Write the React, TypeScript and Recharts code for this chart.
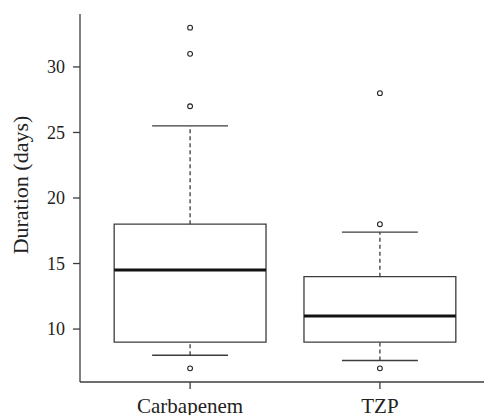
import { ComposedChart, ReferenceArea, ReferenceLine, Scatter, XAxis, YAxis } from "recharts";

const groups = ["Carbapenem", "TZP"];
const lowerWhisker = [8, 7.6];
const lowerQuartile = [9, 9];
const medians = [14.5, 11];
const upperQuartile = [18, 14];
const upperWhisker = [25.5, 17.4];
const outliers = [
  [33, 31, 27, 7],
  [28, 18, 7],
];
const yTicks = [10, 15, 20, 25, 30];

const boxHalf = 0.4;
const capHalf = 0.2;
const xDomain = [0.42, 2.58];
const yDomain = [5.96, 34.04];

const font = "Liberation Serif";
const lineColor = "#3c3c3c";

const outlierPoints = outliers.flatMap((vals, i) => vals.map((v) => ({ x: i + 1, y: v })));

function OutlierDot(props: any) {
  return <circle cx={props.cx} cy={props.cy} r={2.4} fill="#fff" stroke="#222" strokeWidth={1.1} />;
}

function YTitle(props: any) {
  const vb = props.viewBox;
  const cy = vb.y + vb.height / 2 - 13;
  return (
    <text
      x={28}
      y={cy}
      transform={`rotate(-90, 28, ${cy})`}
      textAnchor="middle"
      style={{ fontFamily: font, fontSize: 22, fill: "#222" }}
    >
      Duration (days)
    </text>
  );
}

export default function App() {
  return (
    <div
      style={{
        position: "absolute",
        left: 0,
        top: 0,
        width: 484,
        height: 415,
        overflow: "hidden",
        background: "#fff",
        fontFamily: font,
      }}
    >
      <ComposedChart width={500} height={415} margin={{ top: 14, right: 10, bottom: 0, left: 0 }} style={{ fontFamily: font }}>
        <XAxis
          xAxisId="top"
          orientation="top"
          type="number"
          domain={xDomain}
          allowDataOverflow
          height={0}
          tick={false}
          tickLine={false}
          axisLine={{ stroke: lineColor, strokeWidth: 1.3 }}
        />
        <XAxis
          dataKey="x"
          type="number"
          domain={xDomain}
          allowDataOverflow
          ticks={[1, 2]}
          tickFormatter={(v: number) => groups[v - 1]}
          height={33}
          tickSize={7}
          tickMargin={9}
          axisLine={{ stroke: lineColor, strokeWidth: 1.3 }}
          tickLine={{ stroke: lineColor, strokeWidth: 1.3 }}
          tick={{ fontFamily: font, fontSize: 21, fill: "#222" }}
        />
        <YAxis
          dataKey="y"
          type="number"
          domain={yDomain}
          allowDataOverflow
          ticks={yTicks}
          width={80}
          tickSize={7}
          tickMargin={8}
          axisLine={{ stroke: lineColor, strokeWidth: 1.3 }}
          tickLine={{ stroke: lineColor, strokeWidth: 1.3 }}
          tick={{ fontFamily: font, fontSize: 18, fill: "#222" }}
          label={(p: any) => <YTitle {...p} />}
        />
        {groups.map((g, i) => {
          const pos = i + 1;
          return (
            <ReferenceArea
              key={`box-${g}`}
              x1={pos - boxHalf}
              x2={pos + boxHalf}
              y1={lowerQuartile[i]}
              y2={upperQuartile[i]}
              fill="#fff"
              fillOpacity={1}
              stroke={lineColor}
              strokeWidth={1.3}
            />
          );
        })}
        {groups.map((g, i) => {
          const pos = i + 1;
          return [
            <ReferenceLine
              key={`uw-${g}`}
              segment={[
                { x: pos, y: upperQuartile[i] },
                { x: pos, y: upperWhisker[i] },
              ]}
              stroke={lineColor}
              strokeWidth={1.3}
              strokeDasharray="4 3"
            />,
            <ReferenceLine
              key={`lw-${g}`}
              segment={[
                { x: pos, y: lowerWhisker[i] },
                { x: pos, y: lowerQuartile[i] },
              ]}
              stroke={lineColor}
              strokeWidth={1.3}
              strokeDasharray="4 3"
            />,
            <ReferenceLine
              key={`uc-${g}`}
              segment={[
                { x: pos - capHalf, y: upperWhisker[i] },
                { x: pos + capHalf, y: upperWhisker[i] },
              ]}
              stroke={lineColor}
              strokeWidth={1.3}
            />,
            <ReferenceLine
              key={`lc-${g}`}
              segment={[
                { x: pos - capHalf, y: lowerWhisker[i] },
                { x: pos + capHalf, y: lowerWhisker[i] },
              ]}
              stroke={lineColor}
              strokeWidth={1.3}
            />,
            <ReferenceLine
              key={`med-${g}`}
              segment={[
                { x: pos - boxHalf, y: medians[i] },
                { x: pos + boxHalf, y: medians[i] },
              ]}
              stroke="#111"
              strokeWidth={3}
            />,
          ];
        })}
        <Scatter data={outlierPoints} dataKey="y" shape={<OutlierDot />} isAnimationActive={false} />
      </ComposedChart>
    </div>
  );
}
